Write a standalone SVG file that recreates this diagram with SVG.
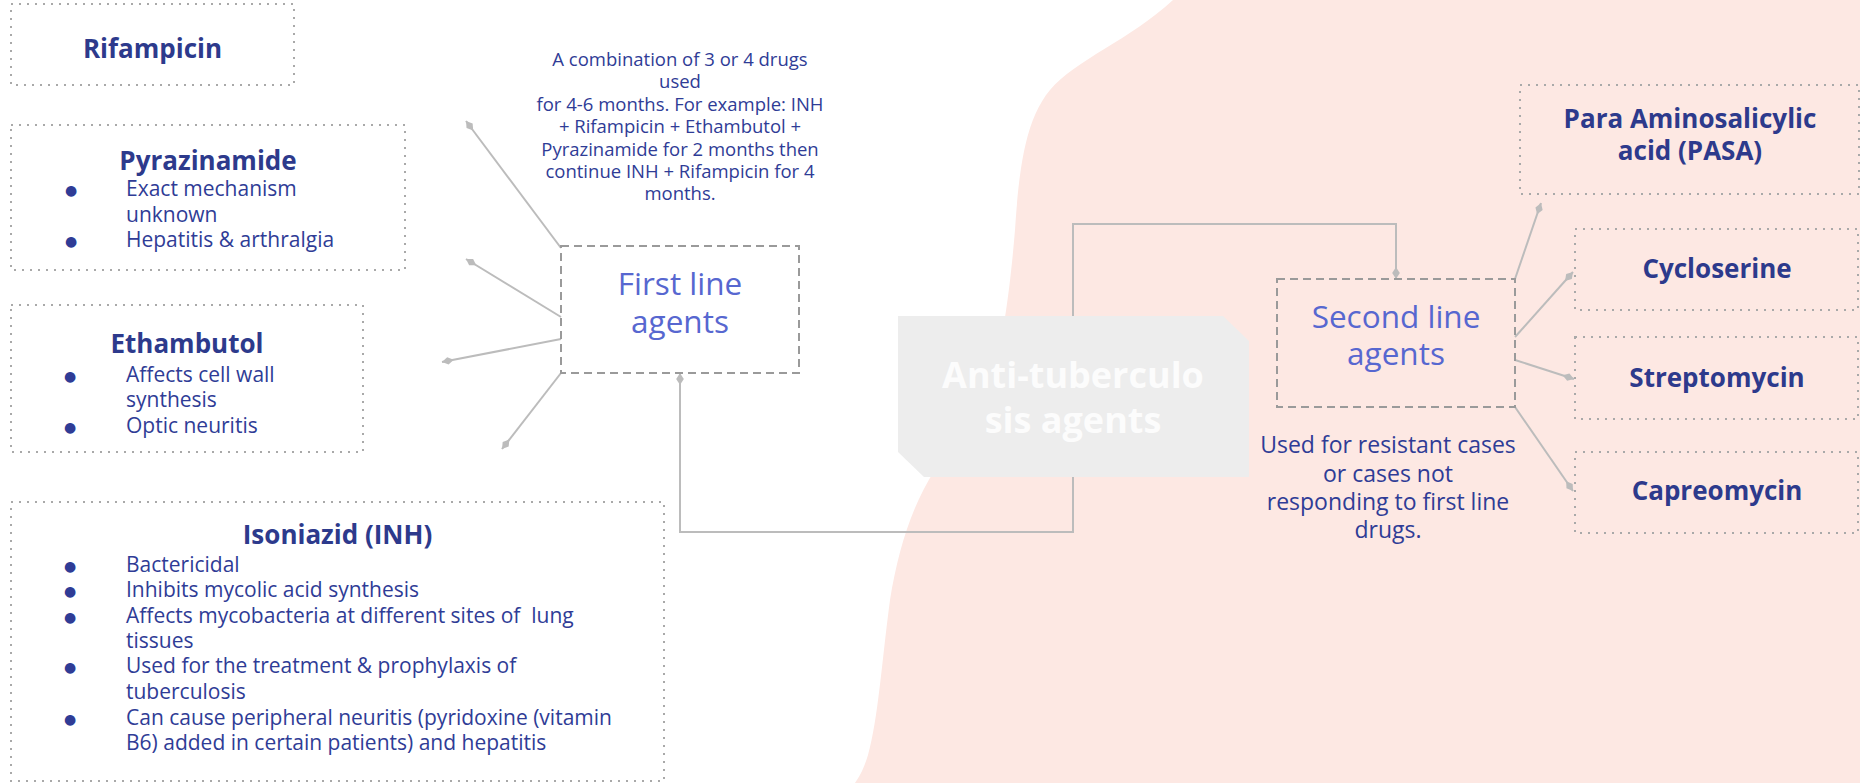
<svg xmlns="http://www.w3.org/2000/svg" width="1860" height="783" viewBox="0 0 1860 783">
<style>
.dot{fill:none;stroke:#a9a9a9;stroke-width:2;stroke-dasharray:2 6}
.dash{fill:none;stroke:#9a9a9a;stroke-width:2;stroke-dasharray:8 5}
.conn{fill:none;stroke:#bcbcbc;stroke-width:2}
.title{font-family:"Open Sans","Liberation Sans",sans-serif;font-weight:700;font-size:26px;fill:#2d3a8c;text-anchor:middle}
.body{font-family:"Open Sans","Liberation Sans",sans-serif;font-size:21px;fill:#2f3c96}
.bul{font-family:"DejaVu Sans",sans-serif;font-size:14px;fill:#2f3c96;text-anchor:middle}
.lbl{font-family:"Open Sans","Liberation Sans",sans-serif;font-size:31.5px;fill:#5767d0;text-anchor:middle}
.note{font-family:"Open Sans","Liberation Sans",sans-serif;font-size:18.5px;fill:#2f3c96;text-anchor:middle}
.note2{font-family:"Open Sans","Liberation Sans",sans-serif;font-size:23px;fill:#2f3c96;text-anchor:middle}
.center{font-family:"Open Sans","Liberation Sans",sans-serif;font-weight:700;font-size:36px;fill:#fcfcfc;text-anchor:middle}
</style>
<defs>
<marker id="dia" markerUnits="userSpaceOnUse" markerWidth="14" markerHeight="10" viewBox="0 0 14 10" refX="13" refY="5" orient="auto">
<path d="M1,5 L7,1.2 L13,5 L7,8.8 Z" fill="#bcbcbc"/>
</marker>
</defs>
<rect width="1860" height="783" fill="#ffffff"/>
<path id="blob" d="M1173,0 C1130,40 1075,60 1050,90 C1025,120 1019,170 1015,230 C1010,290 1004,330 995,370 C985,420 950,450 935,470 C912,505 898,550 890,600 C882,660 878,720 868,755 C864,768 860,776 855,783 L1860,783 L1860,0 Z" fill="#fde8e3"/>
<g id="connectors">
<path class="conn" d="M1073,477 L1073,532 L680,532 L680,373" marker-end="url(#dia)"/>
<path class="conn" d="M1073,316 L1073,224 L1396,224 L1396,279" marker-end="url(#dia)"/>
<path class="conn" d="M561,248 L466,121" marker-end="url(#dia)"/>
<path class="conn" d="M561,317 L466,259" marker-end="url(#dia)"/>
<path class="conn" d="M561,339 L442,362" marker-end="url(#dia)"/>
<path class="conn" d="M561,373 L502,449" marker-end="url(#dia)"/>
<path class="conn" d="M1515,279 L1541,203" marker-end="url(#dia)"/>
<path class="conn" d="M1515,337 L1573,272" marker-end="url(#dia)"/>
<path class="conn" d="M1515,360 L1574,379" marker-end="url(#dia)"/>
<path class="conn" d="M1515,407 L1573,491" marker-end="url(#dia)"/>
</g>
<g id="rifampicin">
<rect class="dot" x="11" y="4" width="283" height="81"/>
<text class="title" x="152.5" y="58">Rifampicin</text>
</g>
<g id="pyrazinamide">
<rect class="dot" x="11" y="125" width="394" height="145"/>
<text class="title" x="208" y="170">Pyrazinamide</text>
<text class="bul" x="71" y="195">●</text>
<text class="body" x="126" y="196">Exact mechanism</text>
<text class="body" x="126" y="222">unknown</text>
<text class="bul" x="71" y="246">●</text>
<text class="body" x="126" y="247">Hepatitis &amp; arthralgia</text>
</g>
<g id="ethambutol">
<rect class="dot" x="11" y="305" width="352" height="147"/>
<text class="title" x="187" y="353">Ethambutol</text>
<text class="bul" x="70" y="381">●</text>
<text class="body" x="126" y="382">Affects cell wall</text>
<text class="body" x="126" y="407">synthesis</text>
<text class="bul" x="70" y="432">●</text>
<text class="body" x="126" y="433">Optic neuritis</text>
</g>
<g id="isoniazid">
<rect class="dot" x="11" y="502" width="653" height="279"/>
<text class="title" x="337.5" y="544">Isoniazid (INH)</text>
<text class="bul" x="70" y="571">●</text>
<text class="body" x="126" y="572">Bactericidal</text>
<text class="bul" x="70" y="596">●</text>
<text class="body" x="126" y="597">Inhibits mycolic acid synthesis</text>
<text class="bul" x="70" y="622">●</text>
<text class="body" x="126" y="623" xml:space="preserve">Affects mycobacteria at different sites of  lung</text>
<text class="body" x="126" y="648">tissues</text>
<text class="bul" x="70" y="672">●</text>
<text class="body" x="126" y="673">Used for the treatment &amp; prophylaxis of</text>
<text class="body" x="126" y="699">tuberculosis</text>
<text class="bul" x="70" y="724">●</text>
<text class="body" x="126" y="725">Can cause peripheral neuritis (pyridoxine (vitamin</text>
<text class="body" x="126" y="750">B6) added in certain patients) and hepatitis</text>
</g>
<g id="first-line-note">
<text class="note" x="680" y="66">A combination of 3 or 4 drugs</text>
<text class="note" x="680" y="88">used</text>
<text class="note" x="680" y="111">for 4-6 months. For example: INH</text>
<text class="note" x="680" y="133">+ Rifampicin + Ethambutol +</text>
<text class="note" x="680" y="156">Pyrazinamide for 2 months then</text>
<text class="note" x="680" y="178">continue INH + Rifampicin for 4</text>
<text class="note" x="680" y="200">months.</text>
</g>
<g id="first-line">
<rect class="dash" x="561" y="246" width="238" height="127"/>
<text class="lbl" x="680" y="295">First line</text>
<text class="lbl" x="680" y="333">agents</text>
</g>
<g id="anti-tb">
<polygon points="898,316 1223,316 1249,341 1249,477 924,477 898,452" fill="#ededed"/>
<text class="center" x="1073" y="388">Anti-tuberculo</text>
<text class="center" x="1073" y="433">sis agents</text>
</g>
<g id="second-line">
<rect class="dash" x="1277" y="279" width="238" height="128"/>
<text class="lbl" x="1396" y="328">Second line</text>
<text class="lbl" x="1396" y="365">agents</text>
</g>
<g id="second-line-note">
<text class="note2" x="1388" y="453">Used for resistant cases</text>
<text class="note2" x="1388" y="482">or cases not</text>
<text class="note2" x="1388" y="510">responding to first line</text>
<text class="note2" x="1388" y="538">drugs.</text>
</g>
<g id="pasa">
<rect class="dot" x="1520" y="85" width="339" height="109"/>
<text class="title" x="1690" y="128">Para Aminosalicylic</text>
<text class="title" x="1690" y="160">acid (PASA)</text>
</g>
<g id="cycloserine">
<rect class="dot" x="1575" y="229" width="283" height="81"/>
<text class="title" x="1717" y="278">Cycloserine</text>
</g>
<g id="streptomycin">
<rect class="dot" x="1575" y="337" width="283" height="82"/>
<text class="title" x="1717" y="387">Streptomycin</text>
</g>
<g id="capreomycin">
<rect class="dot" x="1575" y="452" width="283" height="81"/>
<text class="title" x="1717" y="500">Capreomycin</text>
</g>
</svg>
